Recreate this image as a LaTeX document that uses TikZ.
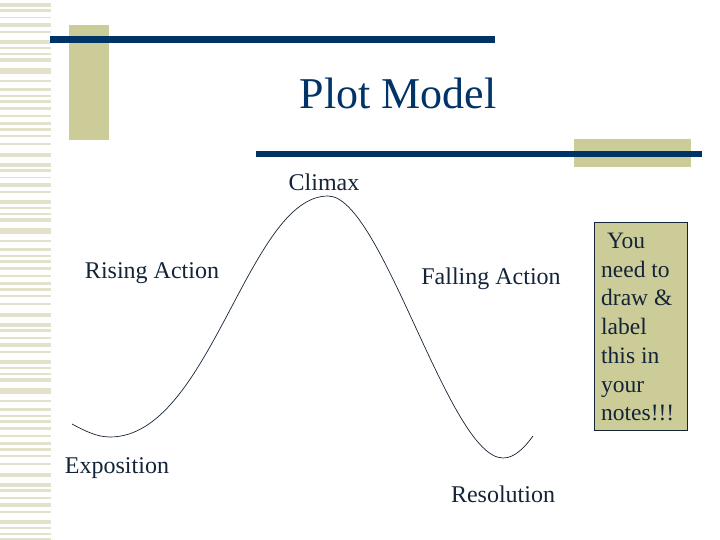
\documentclass[tikz,border=0pt]{standalone}
\usepackage{fontspec}
\setmainfont{Liberation Serif}
\definecolor{navy}{RGB}{0,51,102}
\definecolor{tan}{RGB}{204,204,153}
\definecolor{stripe}{RGB}{226,225,204}
\definecolor{ink}{RGB}{20,36,56}
\tikzset{
  lbl/.style={text=ink,font=\fontsize{24}{26}\selectfont,inner sep=0pt},
  bar/.style={fill=navy,draw=none},
  block/.style={fill=tan,draw=none},
}
\begin{document}
\begin{tikzpicture}[x=1pt,y=-1pt]
\useasboundingbox (0,0) rectangle (720,540);
\fill[white] (0,0) rectangle (720,540);
% left stripes
\foreach \o in {0,160,320,480}{
  \foreach \a/\b in {3/7,9/12,17/18.5,23/27,31/33,40/44,47/49,53/55,58/62,68/74,80/82,88/91,95/97,100/103,107/110,115/117,122/125,128/131,135/137,143/145,153/157}{
    \fill[stripe] (0,\o+\a) rectangle (51,\o+\b);
  }
}
% decorative blocks and bars
\fill[block] (69,25) rectangle (109,140);
\fill[bar] (50,36) rectangle (495,43);
\fill[block] (574,139) rectangle (691,167);
\fill[bar] (256,151) rectangle (702,157);
% title
\node[text=navy,font=\fontsize{44}{48}\selectfont,inner sep=0pt] (title) at (398,93) {Plot Model};
% curve
\draw[ink,line width=0.7pt] (72,424) .. controls (85,431) and (97,437) .. (110,437)
  .. controls (210,437) and (248,196) .. (328,196)
  .. controls (382,196) and (449,458) .. (503,458)
  .. controls (515,458) and (525,447) .. (533,436);
% labels
\node[lbl] (climax) at (324,182) {Climax};
\node[lbl] (rising) at (152,273) {Rising Action};
\node[lbl] (falling) at (491,279) {Falling Action};
\node[lbl] (expo) at (117,468) {Exposition};
\node[lbl] (reso) at (503,494) {Resolution};
% note box
\fill[tan,draw=ink,line width=0.6pt] (594,222) rectangle (687,430);
\node[text=ink,font=\fontsize{23.5}{28.7}\selectfont,align=left,anchor=north west,inner sep=0pt] (note) at (601,233) {\ You\\need to\\draw \&\\label\\this in\\your\\notes!!!};
\end{tikzpicture}
\end{document}
